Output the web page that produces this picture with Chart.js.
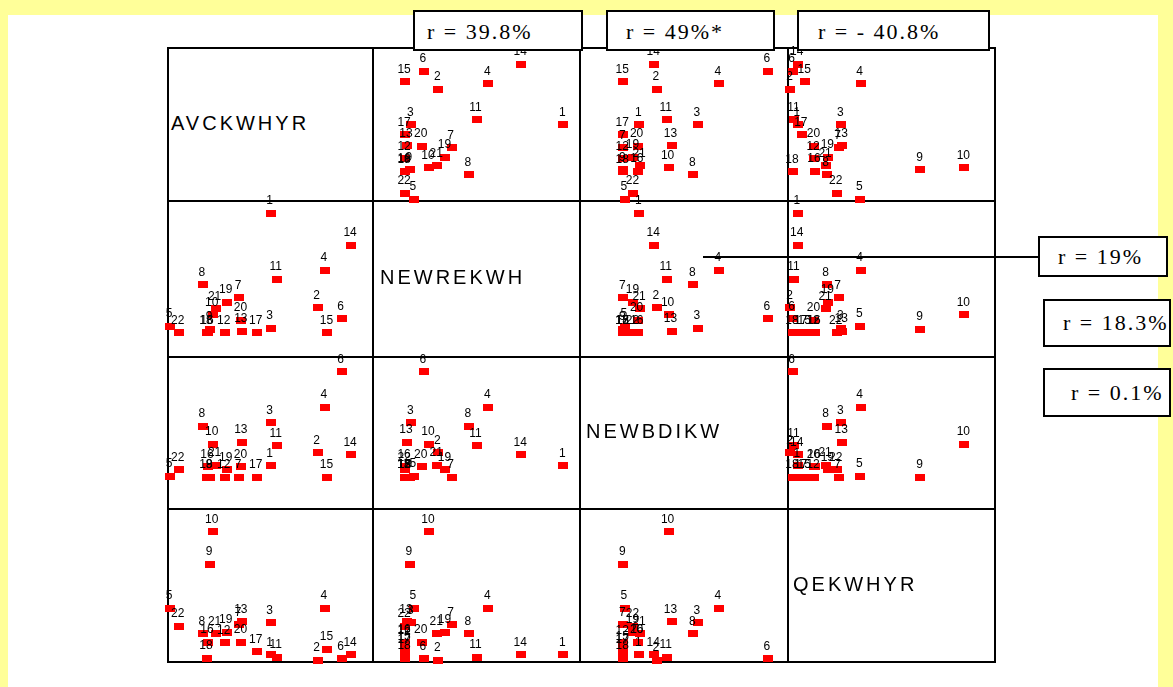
<!DOCTYPE html>
<html>
<head>
<meta charset="utf-8">
<title>Scatterplot matrix</title>
<script src="https://cdn.jsdelivr.net/npm/chart.js@4"></script>
<style>
  html, body { margin: 0; padding: 0; }
  body { width: 1173px; height: 687px; background: #ffff99; position: relative; overflow: hidden;
         font-family: "Liberation Sans", Arial, sans-serif; }
  #sheet { position: absolute; left: 8px; top: 15px; width: 1150px; height: 672px; background: #ffffff; }
  .rule { position: absolute; background: #000; z-index: 1; }
  .cell { position: absolute; z-index: 2; }
  .varname { position: absolute; z-index: 3; font-size: 20px; letter-spacing: 3px; color: #000; white-space: nowrap; }
  .rbox { position: absolute; z-index: 4; box-sizing: border-box; border: 2px solid #000; background: #fff;
          font-family: "Liberation Serif", "Times New Roman", serif; font-size: 22px; letter-spacing: 2px;
          color: #000; white-space: nowrap; }
</style>
</head>
<body>
<div id="sheet"></div>
<script>
// Point identifiers (1..22) and the four variables, on a 0-100 index scale
const pointIds = ['1','2','3','4','5','6','7','8','9','10','11','12','13','14','15','16','17','18','19','20','21','22'];
const avckwhyr = [50, 73, 50, 76.5, 1, 84.7, 34.7, 17, 20.5, 21.8, 53, 27.7, 36, 89.3, 77.8, 19.5, 43.3, 19, 28.6, 35.8, 23.2, 5.2];
const newrekwh = [92, 31.6, 18.5, 55.7, 19.7, 24.6, 38, 46.3, 17.8, 27, 50, 15.5, 16.4, 71.6, 15.5, 15.5, 15.5, 15.5, 35, 23.5, 31, 15.5];
const newbdikw = [28.5, 37, 56.7, 66.8, 21.5, 90.3, 20.8, 54.5, 20.8, 42.6, 41.7, 20.8, 44, 35.7, 20.8, 27.8, 20.8, 20.8, 25.7, 27.7, 28.9, 25.7];
const qekwhyr  = [4.7, 1.2, 25.8, 35.1, 35, 2.2, 24.4, 18.6, 64, 85.2, 3.1, 12.6, 26.2, 4.7, 8.3, 13, 6.7, 2.4, 19.5, 12.8, 18.4, 23.5];

const varNames = ['AVCKWHYR', 'NEWREKWH', 'NEWBDIKW', 'QEKWHYR'];
// Correlation notes along the top row and down the right side
const topNotes = ['r = 39.8%', 'r = 49%*', 'r = - 40.8%'];
const sideNotes = ['r = 19%', 'r = 18.3%', 'r = 0.1%'];

const series = [avckwhyr, newrekwh, newbdikw, qekwhyr];
const AXIS_MIN = 0, AXIS_MAX = 100;

// Grid geometry (page pixels)
const COLS = [168, 373, 580, 788, 995];
const ROWS = [48, 201, 357, 509, 662];
const PAD = 26;

function addDiv(cls, css, text) {
  const d = document.createElement('div');
  d.className = cls;
  Object.assign(d.style, css);
  if (text !== undefined) d.textContent = text;
  document.body.appendChild(d);
  return d;
}

// Frame and dividing rules
COLS.forEach(x => addDiv('rule', { left: (x - 1) + 'px', top: (ROWS[0] - 1) + 'px', width: '2px', height: (ROWS[4] - ROWS[0] + 2) + 'px' }));
ROWS.forEach(y => addDiv('rule', { left: (COLS[0] - 1) + 'px', top: (y - 1) + 'px', width: (COLS[4] - COLS[0] + 2) + 'px', height: '2px' }));

// Red rectangular marker
const marker = document.createElement('canvas');
marker.width = 10; marker.height = 7;
const mctx = marker.getContext('2d');
mctx.fillStyle = '#ff0000';
mctx.fillRect(0, 0, 10, 7);

// Writes each point's id just above its marker
const pointLabels = {
  id: 'pointLabels',
  afterDatasetsDraw(chart) {
    const ctx = chart.ctx;
    const meta = chart.getDatasetMeta(0);
    ctx.save();
    ctx.font = '12px "Liberation Sans", Arial, sans-serif';
    ctx.fillStyle = '#000';
    ctx.textAlign = 'center';
    ctx.textBaseline = 'alphabetic';
    meta.data.forEach((el, k) => ctx.fillText(pointIds[k], el.x - 1, el.y - 9));
    ctx.restore();
  }
};

const nameOffsets = [3, 7, 6, 5];
for (let i = 0; i < 4; i++) {
  for (let j = 0; j < 4; j++) {
    const left = COLS[j], top = ROWS[i];
    const w = COLS[j + 1] - COLS[j], h = ROWS[i + 1] - ROWS[i];
    if (i === j) {
      addDiv('varname', { left: (left + nameOffsets[i]) + 'px', top: (top + h / 2 - 13) + 'px' }, varNames[i]);
      continue;
    }
    const cv = document.createElement('canvas');
    cv.className = 'cell';
    cv.width = w + 2 * PAD;
    cv.height = h + 2 * PAD;
    cv.style.left = (left - PAD) + 'px';
    cv.style.top = (top - PAD) + 'px';
    document.body.appendChild(cv);
    new Chart(cv, {
      type: 'scatter',
      data: {
        datasets: [{
          data: pointIds.map((_, k) => ({ x: series[j][k], y: series[i][k] })),
          pointStyle: marker,
          clip: false
        }]
      },
      options: {
        responsive: false,
        animation: false,
        events: [],
        layout: { padding: PAD },
        plugins: { legend: { display: false }, tooltip: { enabled: false } },
        scales: {
          x: { type: 'linear', display: false, min: AXIS_MIN, max: AXIS_MAX },
          y: { type: 'linear', display: false, min: AXIS_MIN, max: AXIS_MAX }
        }
      },
      plugins: [pointLabels]
    });
  }
}

// Correlation boxes
const topBoxes = [[413, 170, 12], [606, 169, 18], [797, 193, 19]];
topNotes.forEach((t, k) => {
  const [x, w, pl] = topBoxes[k];
  addDiv('rbox', { left: x + 'px', top: '10px', width: w + 'px', height: '41px',
    lineHeight: '40px', paddingLeft: pl + 'px' }, t);
});
const sideBoxes = [[1038, 236, 130, 41, 18], [1043, 299, 128, 48, 18], [1043, 368, 128, 49, 26]];
sideNotes.forEach((t, k) => {
  const [x, y, w, h, pl] = sideBoxes[k];
  addDiv('rbox', { left: x + 'px', top: y + 'px', width: w + 'px', height: h + 'px',
    lineHeight: (h - 4) + 'px', paddingLeft: pl + 'px' }, t);
});
// Leader from the NEWREKWH row to its note
addDiv('rule', { left: '703px', top: '256px', width: '336px', height: '2px', zIndex: 4 });
</script>
</body>
</html>
